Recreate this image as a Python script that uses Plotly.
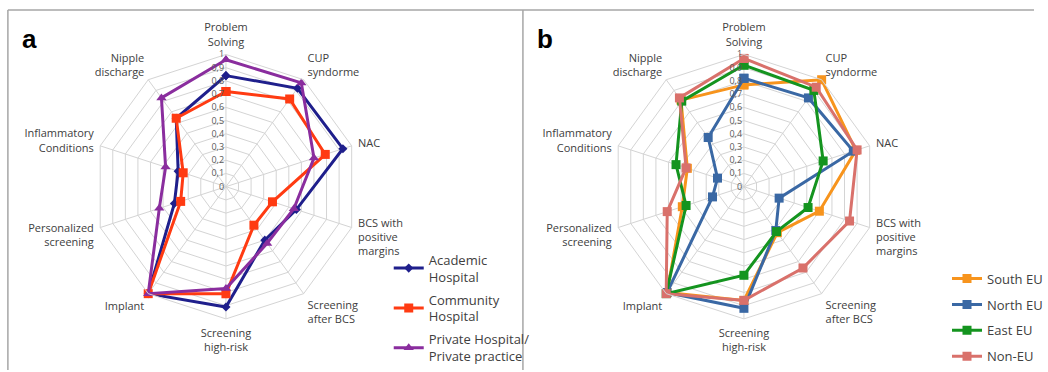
import plotly.graph_objects as go

# Axes of the radar (clockwise from the top)
categories = [
    "Problem<br>Solving", "CUP<br>syndorme", "NAC", "BCS with<br>positive<br>margins",
    "Screening<br>after BCS", "Screening<br>high-risk", "Implant",
    "Personalized<br>screening", "Inflammatory<br>Conditions", "Nipple<br>discharge",
]

# Panel a: type of institution
academic = [0.84, 0.92, 0.93, 0.56, 0.50, 0.91, 1.00, 0.41, 0.38, 0.64]
community = [0.72, 0.82, 0.79, 0.37, 0.36, 0.81, 1.00, 0.36, 0.34, 0.64]
private = [0.96, 0.97, 0.70, 0.54, 0.53, 0.77, 1.00, 0.53, 0.48, 0.83]

# Panel b: region
south_eu = [0.77, 1.00, 0.89, 0.60, 0.43, 0.86, 0.99, 0.49, 0.45, 0.81]
north_eu = [0.82, 0.83, 0.87, 0.28, 0.41, 0.92, 0.99, 0.25, 0.21, 0.46]
east_eu = [0.92, 0.90, 0.63, 0.51, 0.42, 0.67, 1.00, 0.46, 0.54, 0.80]
non_eu = [0.97, 0.93, 0.90, 0.84, 0.76, 0.86, 1.00, 0.61, 0.46, 0.83]

radial_ticks = [round(i * 0.1, 1) for i in range(11)]

W, H = 1048, 372
R = 134  # polar radius in px
CY = 187.7
CENTERS = [229, 754]

FONT = "Open Sans"
GRID = "#d4d4d4"
TEXT = "#404040"


def closed(v):
    return list(v) + [v[0]]


theta = closed(categories)

fig = go.Figure()

series_a = [
    ("Academic<br>Hospital", academic, "#1f1f8c", "diamond", 7),
    ("Community<br>Hospital", community, "#ff3b12", "square", 9),
    ("Private Hospital/<br>Private practice", private, "#8a2d9e", "triangle-up", 9),
]
series_b = [
    ("South EU", south_eu, "#f7941d", "square", 9),
    ("North EU", north_eu, "#3a68a4", "square", 9),
    ("East EU", east_eu, "#14941f", "square", 9),
    ("Non-EU", non_eu, "#d9716b", "square", 9),
]

for name, vals, color, sym, size in series_a:
    fig.add_trace(go.Scatterpolar(
        r=closed(vals), theta=theta, name=name, mode="lines+markers",
        line=dict(color=color, width=3), marker=dict(symbol=sym, size=size, color=color),
        subplot="polar", legend="legend", legendgroup=name,
    ))

for name, vals, color, sym, size in series_b:
    fig.add_trace(go.Scatterpolar(
        r=closed(vals), theta=theta, name=name, mode="lines+markers",
        line=dict(color=color, width=3), marker=dict(symbol=sym, size=size, color=color),
        subplot="polar2", legend="legend2", legendgroup=name,
    ))


def polar_layout(cx):
    return dict(
        domain=dict(x=[(cx - R) / W, (cx + R) / W],
                    y=[(H - CY - R) / H, (H - CY + R) / H]),
        gridshape="linear",
        bgcolor="white",
        radialaxis=dict(
            range=[0, 1], tickvals=radial_ticks, angle=90, tickangle=90,
            showline=False, gridcolor=GRID, gridwidth=1,
            tickfont=dict(family=FONT, size=9, color="#595959"),
            ticks="", side="counterclockwise",
        ),
        angularaxis=dict(
            type="category", categoryarray=categories, direction="clockwise",
            rotation=90, showline=True, linecolor=GRID, linewidth=1,
            gridcolor=GRID, gridwidth=1,
            ticks="outside", ticklen=4, tickcolor="rgba(0,0,0,0)",
            tickfont=dict(family=FONT, size=11, color=TEXT),
        ),
    )


line_color = "#a6a6a6"
fig.update_layout(
    width=W, height=H,
    margin=dict(l=0, r=0, t=0, b=0),
    paper_bgcolor="white",
    separators=",.",
    polar=polar_layout(CENTERS[0]),
    polar2=polar_layout(CENTERS[1]),
    legend=dict(
        x=394 / W, y=(H - 246) / H, xanchor="left", yanchor="top",
        font=dict(family=FONT, size=13, color=TEXT), itemwidth=30,
        bgcolor="rgba(0,0,0,0)", tracegroupgap=3,
    ),
    legend2=dict(
        x=960 / W, y=(H - 265) / H, xanchor="left", yanchor="top",
        font=dict(family=FONT, size=13, color=TEXT), itemwidth=30,
        bgcolor="rgba(0,0,0,0)", tracegroupgap=6,
    ),
    showlegend=True,
    annotations=[
        dict(text="<b>a</b>", x=20 / W, y=(H - 22) / H, xref="paper", yref="paper",
             xanchor="left", yanchor="top", showarrow=False,
             font=dict(family="Liberation Sans", size=26, color="black")),
        dict(text="<b>b</b>", x=542 / W, y=(H - 22) / H, xref="paper", yref="paper",
             xanchor="left", yanchor="top", showarrow=False,
             font=dict(family="Liberation Sans", size=26, color="black")),
    ],
    shapes=[
        dict(type="line", xref="paper", yref="paper", x0=8 / W, x1=1, y0=(H - 10) / H, y1=(H - 10) / H,
             line=dict(color=line_color, width=1.5)),
        dict(type="line", xref="paper", yref="paper", x0=8 / W, x1=8 / W, y0=0, y1=(H - 10) / H,
             line=dict(color=line_color, width=1.5)),
        dict(type="line", xref="paper", yref="paper", x0=530 / W, x1=530 / W, y0=0, y1=(H - 10) / H,
             line=dict(color=line_color, width=1.5)),
    ],
)

fig.write_html("out.html")
